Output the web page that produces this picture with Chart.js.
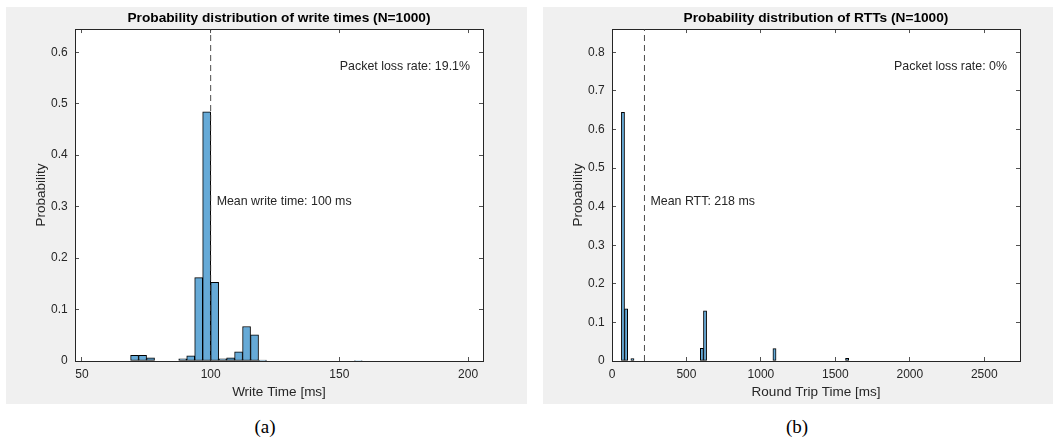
<!DOCTYPE html>
<html><head><meta charset="utf-8">
<script src="https://cdn.jsdelivr.net/npm/chart.js@4.4.1/dist/chart.umd.min.js"></script>
<style>
html,body{margin:0;padding:0;background:#fff;width:1059px;height:448px;overflow:hidden;}
.panel{position:absolute;top:7px;height:397px;background:#f0f0f0;}
#pa{left:6px;width:521px;}
#pb{left:543px;width:510px;}
canvas{display:block;}
.cap{position:absolute;top:416px;line-height:22px;font-family:"Liberation Serif","DejaVu Serif",serif;font-size:19px;color:#000;transform:translateX(-50%);}
</style></head>
<body>
<div class="panel" id="pa"><canvas id="ca" width="521" height="397"></canvas></div>
<div class="panel" id="pb"><canvas id="cb" width="510" height="397"></canvas></div>
<div class="cap" style="left:265px">(a)</div>
<div class="cap" style="left:797px">(b)</div>
<script>
// ---- data: write times (panel a) ----
const writeBinCenters = [70.45, 73.55, 76.65, 89.15, 92.25, 95.35, 98.45, 101.55, 104.65, 107.75, 110.85, 113.95, 117.05, 120.15, 157.35];
const writeProb       = [0.011, 0.011, 0.006, 0.004, 0.010, 0.162, 0.484, 0.153, 0.004, 0.006, 0.018, 0.067, 0.051, 0.002, 0.001];
const writeXTicks = [50, 100, 150, 200];
const writeYTicks = [0, 0.1, 0.2, 0.3, 0.4, 0.5, 0.6];
const writeXRange = [47.3, 205.8];
const writeYMax = 0.645;
const writeMean = 100;
const writeMeanLabelY = 0.31;
const writeTitle = 'Probability distribution of write times (N=1000)';
const writeXLabel = 'Write Time [ms]';
const writeMeanText = 'Mean write time: 100 ms';
const writeLossText = 'Packet loss rate: 19.1%';

// ---- data: round trip times (panel b) ----
const rttBinCenters = [73.6, 94.8, 137.2, 603.6, 624.8, 1091.2, 1578.8];
const rttProb       = [0.644, 0.135, 0.006, 0.033, 0.130, 0.032, 0.007];
const rttXTicks = [0, 500, 1000, 1500, 2000, 2500];
const rttYTicks = [0, 0.1, 0.2, 0.3, 0.4, 0.5, 0.6, 0.7, 0.8];
const rttXRange = [0, 2740];
const rttYMax = 0.86;
const rttMean = 218;
const rttMeanLabelY = 0.414;
const rttTitle = 'Probability distribution of RTTs (N=1000)';
const rttXLabel = 'Round Trip Time [ms]';
const rttMeanText = 'Mean RTT: 218 ms';
const rttLossText = 'Packet loss rate: 0%';

const yLabel = 'Probability';
const FONT = '"Liberation Sans", Arial, Helvetica, sans-serif';
const AX = '#262626';

const plotBgPlugin = {
  id: 'plotBg',
  beforeDraw(chart) {
    const {ctx, chartArea: a} = chart;
    ctx.save();
    ctx.fillStyle = '#ffffff';
    ctx.fillRect(a.left, a.top, a.right - a.left, a.bottom - a.top);
    ctx.restore();
  }
};

const annotPlugin = {
  id: 'annot',
  afterDatasetsDraw(chart, args, o) {
    const {ctx, chartArea, scales} = chart;
    ctx.save();
    ctx.font = '12.4px ' + FONT;
    ctx.fillStyle = AX;
    ctx.textBaseline = 'middle';
    ctx.textAlign = 'left';
    ctx.fillText(o.meanText, scales.x.getPixelForValue(o.mean) + 6, scales.y.getPixelForValue(o.meanY));
    ctx.textAlign = 'right';
    ctx.fillText(o.lossText, chartArea.right - 13, chartArea.top + 38);
    ctx.restore();
  }
};

function setTicks(values) {
  return function(scale) { scale.ticks = values.map(v => ({value: v})); };
}
const gridOpts = {display: true, drawOnChartArea: false, drawTicks: true, tickLength: -4, tickColor: AX, tickWidth: 0.8, offset: false};
const borderOpts = {display: true, color: AX, width: 1};

function makeChart(id, d) {
  new Chart(document.getElementById(id), {
    type: 'bar',
    data: {
      datasets: [
        {
          type: 'line',
          data: [{x: d.mean, y: 0}, {x: d.mean, y: d.yMax}],
          borderColor: '#3a3a3a', borderWidth: 0.9, borderDash: [6, 4],
          pointRadius: 0, fill: false, xAxisID: 'x', yAxisID: 'y'
        },
        {
          type: 'bar',
          data: d.centers.map((c, i) => ({x: c, y: d.prob[i]})),
          backgroundColor: '#66AAD7', borderColor: '#000', borderWidth: 1,
          borderSkipped: false, barPercentage: 1, categoryPercentage: 1,
          xAxisID: 'x', yAxisID: 'y'
        }
      ]
    },
    options: {
      responsive: false, animation: false, events: [],
      layout: {padding: {left: 0, top: 0, bottom: 0, right: d.padRight}},
      plugins: {
        legend: {display: false},
        tooltip: {enabled: false},
        title: {
          display: true, text: d.title, color: '#000', fullSize: false,
          font: {family: FONT, size: 13.7, weight: 'bold', lineHeight: 1.2},
          padding: {top: 2.8, bottom: 2.8}
        },
        annot: {meanText: d.meanText, mean: d.mean, meanY: d.meanY, lossText: d.lossText}
      },
      scales: {
        x: {
          type: 'linear', position: 'bottom', min: d.xRange[0], max: d.xRange[1], offset: false,
          afterBuildTicks: setTicks(d.xTicks),
          afterFit: s => { s.height = 43; },
          grid: gridOpts, border: borderOpts,
          ticks: {color: AX, font: {family: FONT, size: 12, lineHeight: 1.2}, padding: 10.8, maxRotation: 0, autoSkip: false, callback: v => String(v)},
          title: {display: true, text: d.xLabel, color: AX, font: {family: FONT, size: 13.5, lineHeight: 1.2}, padding: {top: 0, bottom: 3.9}}
        },
        x2: {
          type: 'linear', axis: 'x', position: 'top', min: d.xRange[0], max: d.xRange[1], offset: false,
          afterBuildTicks: setTicks(d.xTicks),
          afterFit: s => { s.height = 0; },
          grid: gridOpts, border: borderOpts,
          ticks: {display: false}
        },
        y: {
          type: 'linear', position: 'left', min: 0, max: d.yMax,
          afterBuildTicks: setTicks(d.yTicks),
          afterFit: s => { s.width = 69; },
          grid: gridOpts, border: borderOpts,
          ticks: {color: AX, font: {family: FONT, size: 12, lineHeight: 1.2}, padding: 11.3, autoSkip: false, callback: v => String(v)},
          title: {display: true, text: yLabel, color: AX, font: {family: FONT, size: 13.5, lineHeight: 1.2}, padding: {top: 26.9, bottom: 0}}
        },
        y2: {
          type: 'linear', axis: 'y', position: 'right', min: 0, max: d.yMax,
          afterBuildTicks: setTicks(d.yTicks),
          afterFit: s => { s.width = 0; },
          grid: gridOpts, border: borderOpts,
          ticks: {display: false}
        }
      }
    },
    plugins: [plotBgPlugin, annotPlugin]
  });
}

makeChart('ca', {
  centers: writeBinCenters, prob: writeProb, xTicks: writeXTicks, yTicks: writeYTicks,
  xRange: writeXRange, yMax: writeYMax, mean: writeMean, meanY: writeMeanLabelY,
  title: writeTitle, xLabel: writeXLabel, meanText: writeMeanText, lossText: writeLossText, padRight: 44
});
makeChart('cb', {
  centers: rttBinCenters, prob: rttProb, xTicks: rttXTicks, yTicks: rttYTicks,
  xRange: rttXRange, yMax: rttYMax, mean: rttMean, meanY: rttMeanLabelY,
  title: rttTitle, xLabel: rttXLabel, meanText: rttMeanText, lossText: rttLossText, padRight: 33
});
</script>
</body></html>
